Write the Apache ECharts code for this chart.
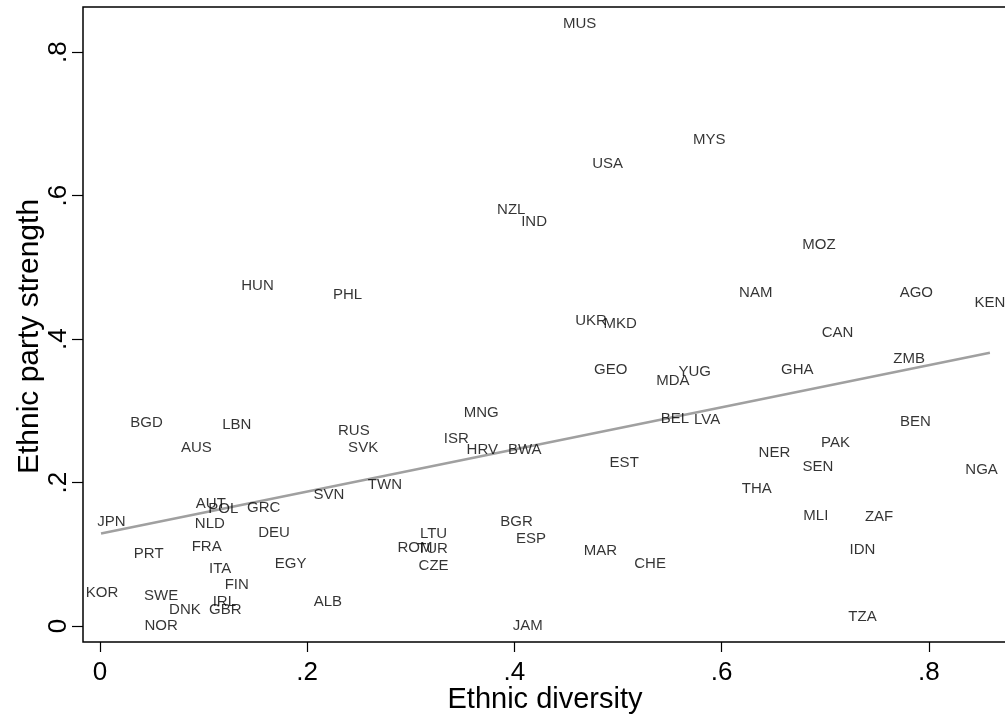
<!DOCTYPE html>
<html>
<head>
<meta charset="utf-8">
<title>Ethnic party strength vs ethnic diversity</title>
<script src="https://cdn.jsdelivr.net/npm/echarts@6/dist/echarts.min.js"></script>
<style>
  html, body { margin: 0; padding: 0; background: #fff; }
  #chart { width: 1005px; height: 717px; }
</style>
</head>
<body>
<div id="chart"></div>
<script>
// country codes
const codes = [
  "KOR", "JPN", "BGD", "PRT", "SWE", "NOR", "DNK", "AUS", "FRA", "NLD",
  "AUT", "ITA", "POL", "IRL", "GBR", "LBN", "FIN", "HUN", "GRC", "DEU",
  "EGY", "ALB", "SVN", "PHL", "RUS", "SVK", "TWN", "ROM", "TUR", "CZE",
  "LTU", "ISR", "MNG", "HRV", "NZL", "BGR", "BWA", "JAM", "ESP", "IND",
  "MUS", "UKR", "MAR", "USA", "GEO", "MKD", "EST", "CHE", "MDA", "BEL",
  "YUG", "LVA", "MYS", "NAM", "THA", "NER", "GHA", "MLI", "SEN", "MOZ",
  "PAK", "CAN", "IDN", "TZA", "ZAF", "ZMB", "BEN", "AGO", "NGA", "KEN"
];
// ethnic diversity (x)
const diversity = [
  0.002, 0.011, 0.045, 0.047, 0.059, 0.059, 0.082, 0.093, 0.103, 0.106,
  0.107, 0.116, 0.119, 0.120, 0.121, 0.132, 0.132, 0.152, 0.158, 0.168,
  0.184, 0.220, 0.221, 0.239, 0.245, 0.254, 0.275, 0.304, 0.321, 0.322,
  0.322, 0.344, 0.368, 0.369, 0.397, 0.402, 0.410, 0.413, 0.416, 0.419,
  0.463, 0.474, 0.483, 0.490, 0.493, 0.502, 0.506, 0.531, 0.553, 0.555,
  0.574, 0.586, 0.588, 0.633, 0.634, 0.651, 0.673, 0.691, 0.693, 0.694,
  0.710, 0.712, 0.736, 0.736, 0.752, 0.781, 0.787, 0.788, 0.851, 0.859
];
// ethnic party strength (y)
const partyStrength = [
  0.046, 0.145, 0.283, 0.100, 0.042, 0.000, 0.023, 0.248, 0.110, 0.142,
  0.170, 0.079, 0.163, 0.034, 0.023, 0.281, 0.058, 0.474, 0.165, 0.130,
  0.087, 0.033, 0.183, 0.461, 0.272, 0.249, 0.197, 0.109, 0.108, 0.084,
  0.128, 0.261, 0.297, 0.245, 0.580, 0.145, 0.246, 0.000, 0.122, 0.563,
  0.839, 0.426, 0.105, 0.645, 0.357, 0.421, 0.227, 0.087, 0.342, 0.289,
  0.354, 0.288, 0.678, 0.465, 0.191, 0.241, 0.357, 0.154, 0.222, 0.532,
  0.256, 0.408, 0.106, 0.013, 0.152, 0.372, 0.285, 0.465, 0.218, 0.450
];
// fitted line end points
const fitX = [0.001, 0.859];
const fitY = [0.129, 0.381];
// tick labels
const tickValues = [0, 0.2, 0.4, 0.6, 0.8];

const font = '"Liberation Sans", Arial, Helvetica, sans-serif';
const stataNum = v => (v === 0 ? "0" : String(+v.toFixed(1)).replace(/^0\./, "."));

const points = codes.map((c, i) => [diversity[i], partyStrength[i], c]);
const fit = fitX.map((x, i) => [x, fitY[i]]);

const chart = echarts.init(document.getElementById("chart"));
chart.setOption({
  animation: false,
  backgroundColor: "#fff",
  textStyle: { fontFamily: font },
  grid: {
    left: 83, top: 7, width: 924, height: 635,
    containLabel: false,
    outerBoundsMode: "none",
    show: true, borderColor: "#000", borderWidth: 1.5, backgroundColor: "#fff"
  },
  xAxis: {
    type: "value",
    min: -0.0164, max: 0.8755,
    name: "Ethnic diversity",
    nameLocation: "middle",
    nameGap: 43,
    nameMoveOverlap: false,
    nameTextStyle: { fontSize: 29, color: "#000", fontFamily: font },
    splitLine: { show: false },
    axisLine: { show: false, onZero: false },
    axisTick: { show: true, length: 10, lineStyle: { color: "#000", width: 1.2 }, customValues: tickValues },
    axisLabel: { color: "#000", fontSize: 26, margin: 18, fontFamily: font, formatter: stataNum, customValues: tickValues }
  },
  yAxis: {
    type: "value",
    min: -0.0223, max: 0.863,
    name: "Ethnic party strength",
    nameLocation: "middle",
    nameGap: 38,
    nameMoveOverlap: false,
    nameTextStyle: { fontSize: 30, color: "#000", fontFamily: font, padding: [0, 24, 0, 0] },
    splitLine: { show: false },
    axisLine: { show: false, onZero: false },
    axisTick: { show: true, length: 11, lineStyle: { color: "#000", width: 1.2 }, customValues: tickValues },
    axisLabel: { color: "#000", fontSize: 26, margin: 11, rotate: 90, fontFamily: font, formatter: stataNum, customValues: tickValues }
  },
  series: [
    {
      type: "line",
      data: fit,
      symbol: "none",
      lineStyle: { color: "#a0a0a0", width: 2.5 },
      z: 1
    },
    {
      type: "scatter",
      data: points,
      symbolSize: 1,
      itemStyle: { color: "rgba(0,0,0,0)" },
      label: {
        show: true,
        position: "inside",
        offset: [0, 2],
        formatter: p => p.data[2],
        color: "#000",
        fontSize: 15,
        fontFamily: font
      },
      labelLayout: { hideOverlap: false },
      z: 2
    }
  ]
});
</script>
</body>
</html>
